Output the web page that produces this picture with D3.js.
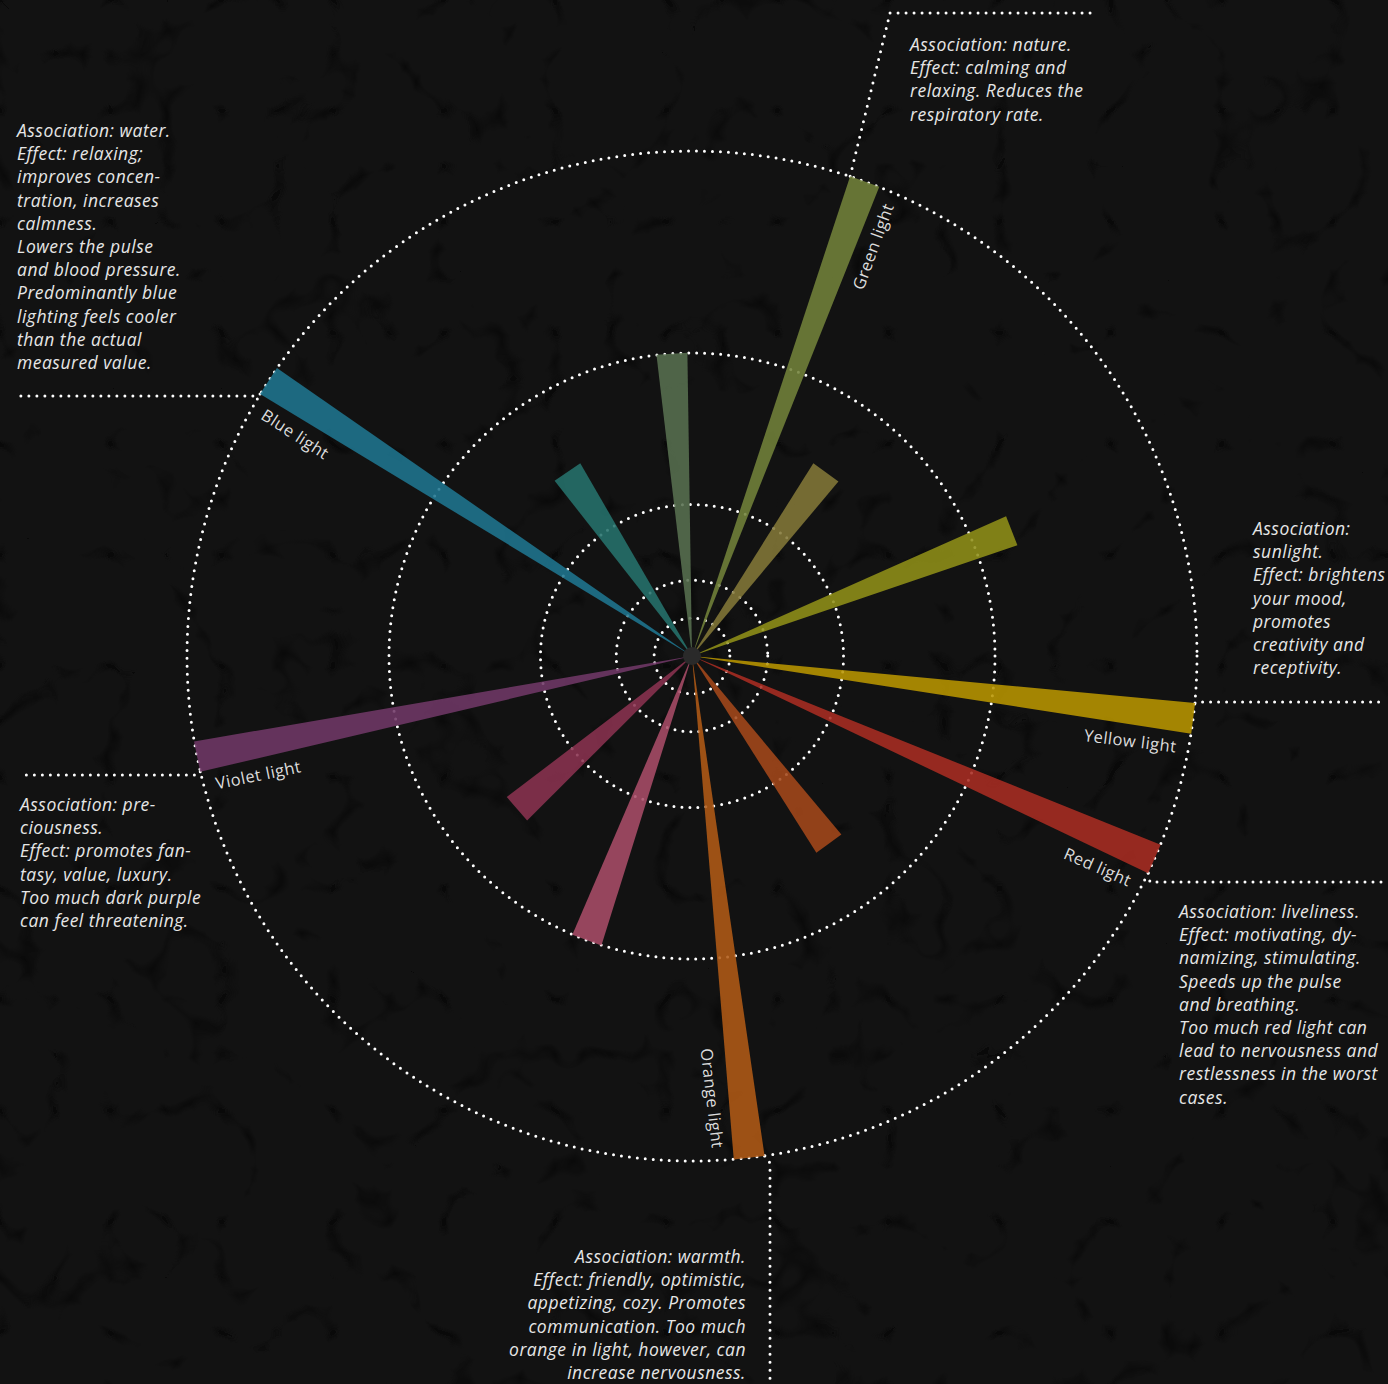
<!DOCTYPE html>
<html>
<head>
<meta charset="utf-8">
<script src="https://cdn.jsdelivr.net/npm/d3@7"></script>
<style>
  body { margin: 0; background: #0e0e0e; }
  .note { font-family: "Open Sans"; font-style: italic; font-size: 17.5px; letter-spacing: 0.5px; fill: #e6e6e6; }
  .lbl { font-family: "Open Sans"; font-size: 16.5px; letter-spacing: 0.5px; fill: #dcdcdc; }
</style>
</head>
<body>
<div id="chart"></div>
<script>

var svgWidth = 1388;
var svgHeight = 1384;
var cx = 692, cy = 656;

// bars: angle (deg, clockwise from top), length (0-100), colour, label
var barAngles = [20, 356.2, 36.1, 68.6, 97.1, 113.7, 143.9, 173.5, 200.3, 228.9, 258.5, 303, 325.9];
var barValues = [100, 60, 45, 68, 100, 100, 46, 100, 60, 46, 100, 100, 44];
var barColors = ["#72823a", "#587050", "#837838", "#909018", "#b89500", "#a82c22", "#a4481a", "#b05a16",
                 "#a84c68", "#8a3250", "#703866", "#1f7590", "#25726c"];
var barLabels = ["Green light", "", "", "", "Yellow light", "Red light", "", "Orange light",
                 "", "", "Violet light", "Blue light", ""];

// dotted reference rings
var ringValues = [7.5, 15, 30, 60, 100];

// notes
var noteGreen = ["Association: nature.", "Effect: calming and", "relaxing. Reduces the", "respiratory rate."];
var noteBlue = ["Association: water.", "Effect: relaxing;", "improves concen-", "tration, increases", "calmness.",
                "Lowers the pulse", "and blood pressure.", "Predominantly blue", "lighting feels cooler",
                "than the actual", "measured value."];
var noteYellow = ["Association:", "sunlight.", "Effect: brightens", "your mood,", "promotes",
                  "creativity and", "receptivity."];
var noteRed = ["Association: liveliness.", "Effect: motivating, dy-", "namizing, stimulating.",
               "Speeds up the pulse", "and breathing.", "Too much red light can",
               "lead to nervousness and", "restlessness in the worst", "cases."];
var noteOrange = ["Association: warmth.", "Effect: friendly, optimistic,", "appetizing, cozy. Promotes",
                  "communication. Too much", "orange in light, however, can", "increase nervousness."];
var noteViolet = ["Association: pre-", "ciousness.", "Effect: promotes fan-", "tasy, value, luxury.",
                  "Too much dark purple", "can feel threatening."];

var bars = barAngles.map(function(a, i) {
  return { angle: a, value: barValues[i], color: barColors[i], label: barLabels[i] };
});

var svg = d3.select("#chart")
  .append("svg")
  .attr("width", svgWidth)
  .attr("height", svgHeight);

// background with a faint cracked texture
var defs = svg.append("defs");
var filt = defs.append("filter").attr("id", "cracks")
  .attr("x", 0).attr("y", 0).attr("width", "100%").attr("height", "100%");
filt.append("feTurbulence")
  .attr("type", "turbulence")
  .attr("baseFrequency", "0.009")
  .attr("numOctaves", 3)
  .attr("seed", 7);
filt.append("feColorMatrix")
  .attr("type", "matrix")
  .attr("values", "0 0 0 0 0  0 0 0 0 0  0 0 0 0 0  -7 0 0 0 0.9");

svg.append("rect")
  .attr("width", svgWidth).attr("height", svgHeight)
  .attr("fill", "#121212");
svg.append("rect")
  .attr("width", svgWidth).attr("height", svgHeight)
  .attr("filter", "url(#cracks)")
  .attr("opacity", 0.5);

var angleScale = d3.scaleLinear().domain([0, 360]).range([0, 2 * Math.PI]);
var rScale = d3.scaleLinear().domain([0, 100]).range([0, 505]);
var halfTip = 15.5;

function tipCorners(d) {
  var a = angleScale(d.angle);
  var p = d3.pointRadial(a, rScale(d.value));
  var n = [Math.cos(a), Math.sin(a)];
  return {
    ccw: [cx + p[0] - halfTip * n[0], cy + p[1] - halfTip * n[1]],
    cw: [cx + p[0] + halfTip * n[0], cy + p[1] + halfTip * n[1]]
  };
}

var dotted = function(sel) {
  sel.attr("fill", "none")
    .attr("stroke", "#ffffff")
    .attr("stroke-width", 3)
    .attr("stroke-linecap", "round")
    .attr("stroke-dasharray", "0 8");
};

var chartGroup = svg.append("g");

// rings
chartGroup.selectAll("circle.ring")
  .data(ringValues)
  .enter()
  .append("circle")
  .attr("class", "ring")
  .attr("cx", cx).attr("cy", cy)
  .attr("r", d => rScale(d))
  .call(dotted);

// leader lines for the notes
var byLabel = {};
bars.forEach(function(d) { if (d.label) byLabel[d.label] = tipCorners(d); });

var leaders = [
  [byLabel["Green light"].ccw, [890, 13], [1097, 13]],
  [byLabel["Blue light"].ccw, [258, 396], [18, 396]],
  [byLabel["Yellow light"].ccw, [1196, 702], [1385, 702]],
  [byLabel["Red light"].cw, [1150, 882], [1385, 882]],
  [byLabel["Orange light"].ccw, [770, 1163], [770, 1384]],
  [byLabel["Violet light"].ccw, [199, 775], [20, 775]]
];

chartGroup.selectAll("path.leader")
  .data(leaders)
  .enter()
  .append("path")
  .attr("class", "leader")
  .attr("d", d3.line())
  .call(dotted);

// bars (wedges from the centre to a flat tip)
chartGroup.selectAll("path.bar")
  .data(bars)
  .enter()
  .append("path")
  .attr("class", "bar")
  .attr("d", function(d) {
    var c = tipCorners(d);
    return d3.line()([[cx, cy], c.ccw, c.cw]) + "Z";
  })
  .attr("fill", d => d.color)
  .attr("fill-opacity", 0.88);

// centre dot
chartGroup.append("circle")
  .attr("cx", cx).attr("cy", cy).attr("r", 9)
  .attr("fill", "#2a2a2a");

// bar labels
var lblGroups = chartGroup.selectAll("g.lbl")
  .data(bars.filter(d => d.label))
  .enter()
  .append("g")
  .attr("transform", function(d) {
    var t = `translate(${cx},${cy}) rotate(${d.angle - 90}) translate(492,0)`;
    if (d.angle > 180) t += " rotate(180)";
    return t;
  });

lblGroups.append("text")
  .attr("class", "lbl")
  .attr("y", 36)
  .attr("text-anchor", d => d.angle > 180 ? "start" : "end")
  .text(d => d.label);

// notes
var notes = [
  { lines: noteGreen, x: 910, y: 51, anchor: "start" },
  { lines: noteBlue, x: 17, y: 137, anchor: "start" },
  { lines: noteYellow, x: 1253, y: 535, anchor: "start" },
  { lines: noteRed, x: 1179, y: 918, anchor: "start" },
  { lines: noteOrange, x: 746, y: 1263, anchor: "end" },
  { lines: noteViolet, x: 20, y: 811, anchor: "start" }
];

notes.forEach(function(n) {
  var t = chartGroup.append("text")
    .attr("class", "note")
    .attr("text-anchor", n.anchor);
  t.selectAll("tspan")
    .data(n.lines)
    .enter()
    .append("tspan")
    .attr("x", n.x)
    .attr("y", (d, i) => n.y + i * 23.2)
    .text(d => d);
});

</script>
</body>
</html>
